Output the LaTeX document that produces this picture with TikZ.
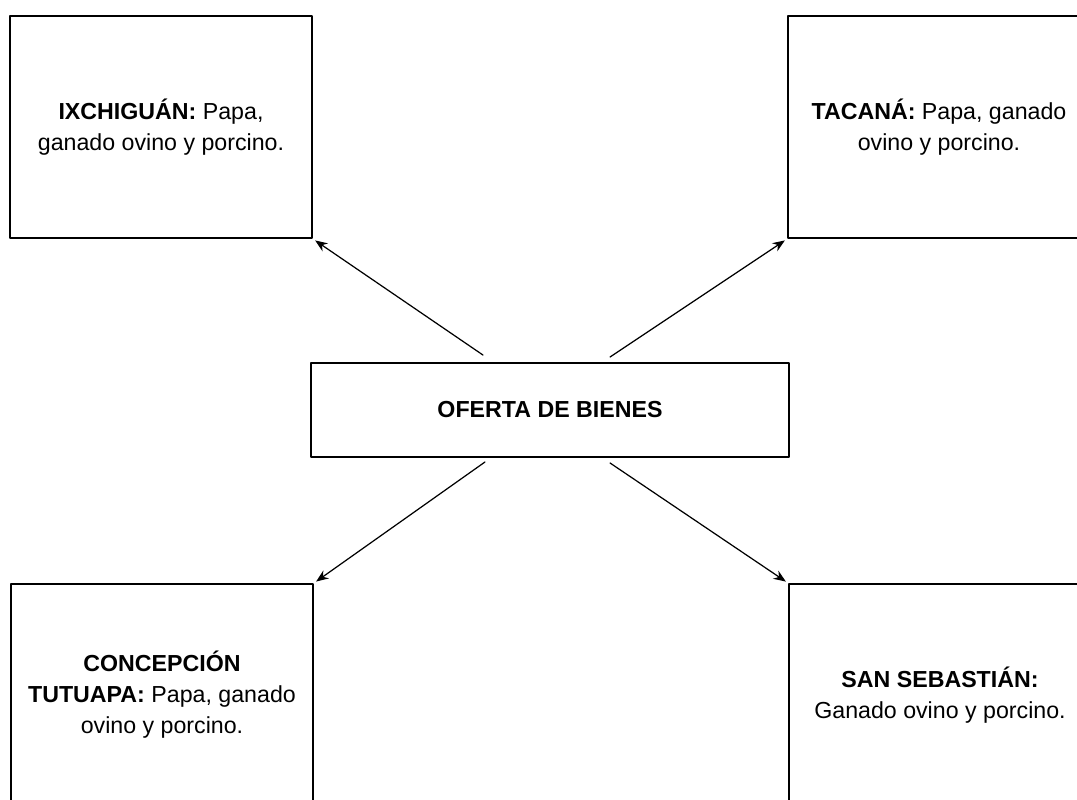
\documentclass[tikz,border=0pt]{standalone}
\usepackage{fontspec}
\setmainfont{Liberation Sans}
\usetikzlibrary{arrows.meta}

\begin{document}
\begin{tikzpicture}[line cap=round,line join=round,>={Stealth[length=7pt,width=5.5pt]},x=0.02cm,y=-0.02cm,
		caja/.style={draw,line width=1.1pt,inner sep=0pt,align=center,minimum width=6.04cm,minimum height=4.44cm,font=\fontsize{13.2}{17.6}\selectfont},
		flecha/.style={->,line width=0.7pt,shorten >=1.5pt}]
		\clip(0,0) rectangle (1077,799);
		\node[caja] (ixchiguan) at (161,127) {\textbf{IXCHIGUÁN:} Papa,\\ganado ovino y porcino.};
		\node[caja] (tacana) at (939,127) {\textbf{TACANÁ:} Papa, ganado\\ovino y porcino.};
		\node[caja,minimum width=9.56cm,minimum height=1.88cm] (bienes) at (550,410) {\textbf{OFERTA DE BIENES}};
		\node[caja] (concepcion) at (162,695) {\textbf{CONCEPCIÓN}\\\textbf{TUTUAPA:} Papa, ganado\\ovino y porcino.};
		\node[caja] (sebastian) at (940,695) {\textbf{SAN SEBASTIÁN:}\\Ganado ovino y porcino.};
		\draw[flecha] ([shift={(-67,-7)}]bienes.north) -- (ixchiguan.south east);
		\draw[flecha] ([shift={(60,-5)}]bienes.north) -- (tacana.south west);
		\draw[flecha] ([shift={(-65,4)}]bienes.south) -- (concepcion.north east);
		\draw[flecha] ([shift={(60,5)}]bienes.south) -- (sebastian.north west);
	\end{tikzpicture}
\end{document}
